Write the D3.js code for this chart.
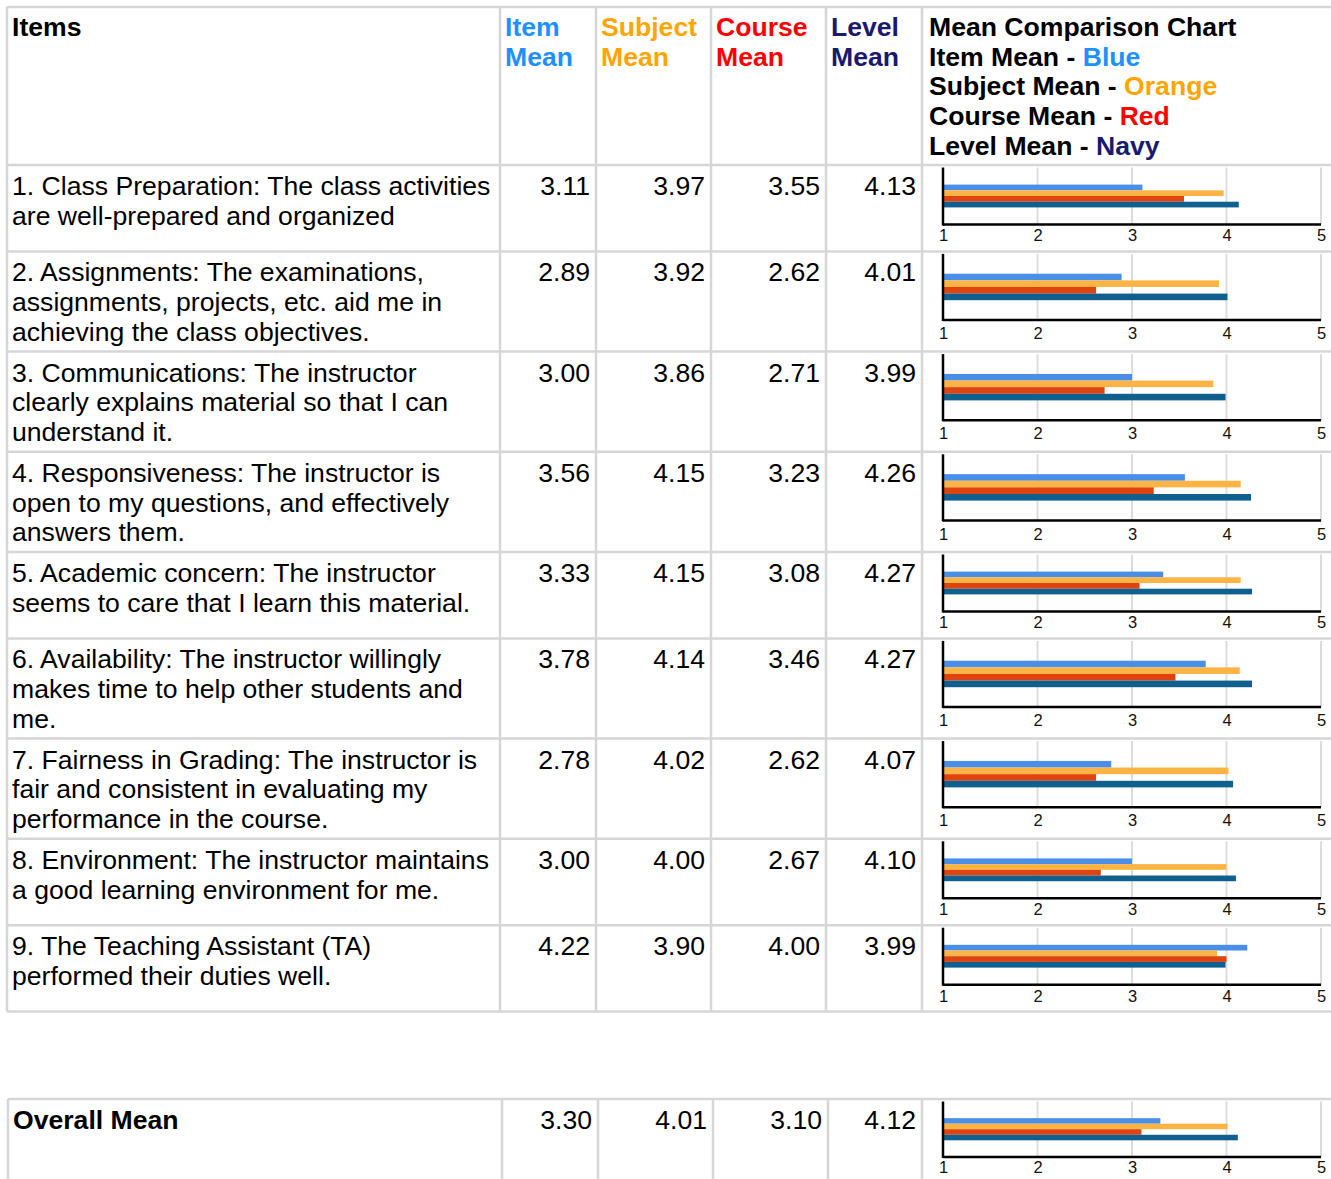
<!DOCTYPE html>
<html><head><meta charset="utf-8">
<script src="https://cdn.jsdelivr.net/npm/d3@7"></script>
<style>
html,body{margin:0;padding:0;background:#fff;}
svg{display:block;font-family:"Liberation Sans",Arial,sans-serif;}
</style></head>
<body>
<svg id="chart" width="1331" height="1179"></svg>
<script>
// ---------------- data ----------------
const items = [
  ["1. Class Preparation: The class activities", "are well-prepared and organized"],
  ["2. Assignments: The examinations,", "assignments, projects, etc. aid me in", "achieving the class objectives."],
  ["3. Communications: The instructor", "clearly explains material so that I can", "understand it."],
  ["4. Responsiveness: The instructor is", "open to my questions, and effectively", "answers them."],
  ["5. Academic concern: The instructor", "seems to care that I learn this material."],
  ["6. Availability: The instructor willingly", "makes time to help other students and", "me."],
  ["7. Fairness in Grading: The instructor is", "fair and consistent in evaluating my", "performance in the course."],
  ["8. Environment: The instructor maintains", "a good learning environment for me."],
  ["9. The Teaching Assistant (TA)", "performed their duties well."]
];
const itemMean    = [3.11, 2.89, 3.00, 3.56, 3.33, 3.78, 2.78, 3.00, 4.22];
const subjectMean = [3.97, 3.92, 3.86, 4.15, 4.15, 4.14, 4.02, 4.00, 3.90];
const courseMean  = [3.55, 2.62, 2.71, 3.23, 3.08, 3.46, 2.62, 2.67, 4.00];
const levelMean   = [4.13, 4.01, 3.99, 4.26, 4.27, 4.27, 4.07, 4.10, 3.99];
const overallLabel = "Overall Mean";
const overallMean = [3.30, 4.01, 3.10, 4.12];
const seriesNames = ["Item Mean", "Subject Mean", "Course Mean", "Level Mean"];
const headerTitles = [["Item", "Mean"], ["Subject", "Mean"], ["Course", "Mean"], ["Level", "Mean"]];
const legendTitle = "Mean Comparison Chart";
const legendColorNames = ["Blue", "Orange", "Red", "Navy"];
const axisTicks = [1, 2, 3, 4, 5];

// ---------------- styles ----------------
const headerColors = ["#1e90ff", "#ffa500", "#ff0000", "#191970"];
const barColors = ["#4a8fe7", "#fdb444", "#df430f", "#0f5f8f"];
const gridColor = "#d6d6d6";
const FS = 26.6;      // main font size
const LH = 29.7;      // line height

const svg = d3.select("#chart");
const x = d3.scaleLinear().domain([1, 5]).range([943, 1321]);

function drawTable(colX, top, rows) {
  const g = svg.append("g");
  const bottom = rows[rows.length - 1].top + rows[rows.length - 1].h;
  const ys = [top].concat(rows.map(r => r.top + r.h));
  g.selectAll("line.h").data(ys).join("line")
    .attr("x1", colX[0]).attr("x2", 1335)
    .attr("y1", d => d).attr("y2", d => d)
    .attr("stroke", gridColor).attr("stroke-width", 2.5);
  g.selectAll("line.v").data(colX).join("line")
    .attr("x1", d => d).attr("x2", d => d)
    .attr("y1", top).attr("y2", bottom)
    .attr("stroke", gridColor).attr("stroke-width", 2.5);
  return g;
}

function drawMiniChart(top, h, vals) {
  const g = svg.append("g");
  const pTop = top + 2.5;
  const pH = 0.66 * h;
  const base = pTop + pH;
  const y = d3.scaleBand().domain(seriesNames).range([pTop + pH * 0.3, pTop + pH * 0.7]).padding(0);
  g.selectAll("line.grid").data(axisTicks.slice(1)).join("line")
    .attr("x1", d => x(d)).attr("x2", d => x(d))
    .attr("y1", pTop).attr("y2", base)
    .attr("stroke", "#dcdcdc").attr("stroke-width", 2);
  g.selectAll("rect").data(vals).join("rect")
    .attr("x", x(1)).attr("y", (d, i) => y(seriesNames[i]))
    .attr("width", d => x(d) - x(1)).attr("height", y.bandwidth())
    .attr("fill", (d, i) => barColors[i]);
  const ax = d3.axisBottom(x).tickValues(axisTicks).tickSize(0).tickPadding(0).tickFormat(d3.format("d"));
  const axG = g.append("g").attr("transform", `translate(0,${base})`).call(ax);
  axG.attr("font-size", 16.5).attr("font-family", "Liberation Sans, Arial, sans-serif");
  axG.select(".domain").attr("stroke", "#000").attr("stroke-width", 2.5).attr("d", `M${x(1)},0H${x(5)}`);
  const labelMid = (base + top + h) / 2 - 2.5 - base;
  axG.selectAll(".tick text").attr("y", labelMid).attr("dy", "0.36em").attr("fill", "#111");
  g.append("line").attr("x1", x(1)).attr("x2", x(1)).attr("y1", pTop).attr("y2", base + 1)
    .attr("stroke", "#000").attr("stroke-width", 2.5);
}

// ---------------- main table ----------------
const colX = [7, 500, 596, 711, 826, 922];
const headerTop = 7, headerH = 158;
let rows = [];
let cur = headerTop + headerH;
items.forEach((lines) => {
  const h = lines.length === 3 ? 100.2 : 86.4;
  rows.push({top: cur, h});
  cur += h;
});
drawTable(colX, headerTop, [{top: headerTop, h: headerH}].concat(rows));

svg.append("text").attr("x", 12).attr("y", headerTop + 29)
  .attr("font-size", FS).attr("font-weight", "bold").attr("fill", "#000").text("Items");
headerTitles.forEach((t, i) => {
  const tx = svg.append("text").attr("x", colX[i + 1] + 5).attr("y", headerTop + 29)
    .attr("font-size", FS).attr("font-weight", "bold").attr("fill", headerColors[i]);
  t.forEach((line, j) => tx.append("tspan").attr("x", colX[i + 1] + 5).attr("dy", j === 0 ? 0 : LH).text(line));
});
const leg = svg.append("text").attr("x", 929).attr("y", headerTop + 29)
  .attr("font-size", FS).attr("font-weight", "bold").attr("fill", "#000");
leg.append("tspan").attr("x", 929).text(legendTitle);
seriesNames.forEach((s, i) => {
  leg.append("tspan").attr("x", 929).attr("dy", LH).attr("fill", "#000").text(s + " - ");
  leg.append("tspan").attr("fill", headerColors[i]).text(legendColorNames[i]);
});

const seriesData = [itemMean, subjectMean, courseMean, levelMean];
rows.forEach((r, i) => {
  const t = svg.append("text").attr("x", 12).attr("y", r.top + 30)
    .attr("font-size", FS).attr("fill", "#000");
  items[i].forEach((line, j) => t.append("tspan").attr("x", 12).attr("dy", j === 0 ? 0 : LH).text(line));
  seriesData.forEach((arr, k) => {
    svg.append("text").attr("x", colX[k + 2] - 6).attr("y", r.top + 30)
      .attr("text-anchor", "end").attr("font-size", FS).attr("fill", "#000")
      .text(arr[i].toFixed(2));
  });
  drawMiniChart(r.top, r.h, seriesData.map(a => a[i]));
});

// ---------------- overall table ----------------
const colX2 = [8, 502, 598, 713, 828, 922];
const oTop = 1099, oH = 84;
drawTable(colX2, oTop, [{top: oTop, h: oH}]);
svg.append("text").attr("x", 13).attr("y", oTop + 30)
  .attr("font-size", FS).attr("font-weight", "bold").attr("fill", "#000").text(overallLabel);
overallMean.forEach((v, k) => {
  svg.append("text").attr("x", colX2[k + 2] - 6).attr("y", oTop + 30)
    .attr("text-anchor", "end").attr("font-size", FS).attr("fill", "#000").text(v.toFixed(2));
});
drawMiniChart(oTop, oH, overallMean);
</script>
</body></html>
